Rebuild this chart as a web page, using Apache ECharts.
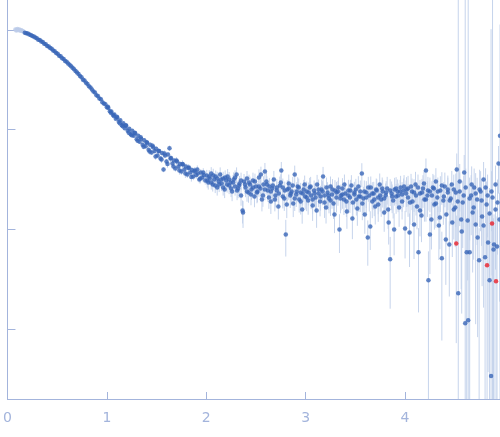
<!DOCTYPE html>
<html><head><meta charset="utf-8">
<script src="https://cdn.jsdelivr.net/npm/echarts@6/dist/echarts.min.js"></script>
<style>html,body{margin:0;padding:0;background:#fff}#c{width:500px;height:437px}</style>
</head><body><div id="c"></div>
<script>
const xTicks=[0,1,2,3,4];
const yTicks=[-3,-2,-1,0];
const Y_MIN=-3.7, Y_MAX=0.3;

const qLight=[0.08,0.09,0.1,0.11,0.12,0.13,0.14,0.15,0.16];
const lgLight=[0.005,-0.005,0.01,-0.002,0.004,-0.008,-0.003,-0.012,-0.015];
const errLight=[0.03,0.025,0.03,0.02,0.025,0.02,0.02,0.02,0.02];

const qMain=[
0.175,0.19,0.205,0.22,0.235,0.25,0.265,0.28,0.295,0.31,
0.325,0.34,0.355,0.37,0.385,0.4,0.415,0.43,0.445,0.46,
0.475,0.49,0.505,0.52,0.535,0.55,0.565,0.58,0.595,0.61,
0.625,0.64,0.655,0.67,0.685,0.7,0.715,0.73,0.745,0.76,
0.775,0.79,0.805,0.82,0.835,0.85,0.865,0.88,0.895,0.91,
0.925,0.94,0.955,
0.97,0.985,1,1.015,1.03,1.045,1.06,1.075,1.09,1.105,
1.12,1.135,1.15,1.165,1.18,1.195,1.21,1.225,1.24,1.255,
1.27,1.285,1.3,1.315,1.33,1.345,1.36,1.375,1.39,1.405,
1.42,1.435,1.45,1.465,1.48,1.495,1.51,1.525,1.54,1.555,
1.57,1.585,1.6,1.615,1.63,1.645,1.66,1.675,1.69,1.705,
1.72,1.735,1.75,1.765,1.78,1.795,1.81,1.825,1.84,1.855,
1.87,1.885,1.9,1.915,1.93,1.945,1.96,1.975,1.99,
2.005,2.02,2.035,2.05,2.065,2.08,2.095,2.11,2.125,2.14,
2.155,2.17,2.185,2.2,2.215,2.23,2.245,2.26,2.275,2.29,
2.305,2.32,2.335,2.35,2.365,2.38,2.395,2.41,2.425,2.44,
2.455,2.47,2.485,2.5,2.515,2.53,2.545,2.56,2.575,2.59,
2.605,2.62,2.635,2.65,2.665,2.68,2.695,2.71,2.725,2.74,
2.755,2.77,2.785,2.8,2.815,2.83,2.845,2.86,2.875,2.89,
2.905,2.92,2.935,2.95,2.965,2.98,2.995,
3.01,3.025,3.04,3.055,3.07,3.085,3.1,3.115,3.13,3.145,
3.16,3.175,3.19,3.205,3.22,3.235,3.25,3.265,3.28,3.295,
3.31,3.325,3.34,3.355,3.37,3.385,3.4,3.415,3.43,3.445,
3.46,3.475,3.49,3.505,3.52,3.535,3.55,3.565,3.58,3.595,
3.61,3.625,3.64,3.655,3.67,3.685,3.7,3.715,3.73,3.745,
3.76,3.775,3.79,3.805,3.82,3.835,3.85,3.865,3.88,3.895,
3.91,3.925,3.94,3.955,3.97,3.985,
4,4.015,4.03,4.045,4.06,4.075,4.09,4.105,4.12,4.135,
4.15,4.165,4.18,4.195,4.21,4.225,4.235,4.25,4.265,4.28,
4.295,4.31,4.325,4.34,4.355,4.37,4.385,4.4,4.415,4.43,
4.445,4.46,4.475,4.49,
4.505,4.52,4.535,4.55,4.565,4.58,4.595,4.605,4.62,4.635,
4.65,4.665,4.68,4.695,4.71,4.725,4.745,4.76,4.775,4.79,
4.805,4.82,4.835,4.85,4.865,4.88,4.895,4.91,4.925,4.94,
4.955];

const lgMain=[
-0.028,-0.033,-0.036,-0.045,-0.05,-0.062,-0.066,-0.077,-0.083,-0.098,
-0.1,-0.116,-0.121,-0.138,-0.143,-0.16,-0.166,-0.182,-0.188,-0.206,
-0.213,-0.231,-0.238,-0.258,-0.265,-0.283,-0.291,-0.312,-0.32,-0.337,
-0.35,-0.363,-0.38,-0.393,-0.412,-0.428,-0.442,-0.461,-0.474,-0.5,
-0.508,-0.53,-0.542,-0.565,-0.578,-0.597,-0.617,-0.628,-0.654,-0.662,
-0.688,-0.696,-0.724,
-0.738,-0.745,-0.775,-0.782,-0.815,-0.818,-0.85,-0.848,-0.89,-0.878,
-0.92,-0.905,-0.955,-0.935,-0.985,-0.96,-1.01,-0.99,-1.045,-1.01,
-1.06,-1.035,-1.095,-1.06,-1.12,-1.09,-1.15,-1.105,-1.165,-1.13,
-1.2,-1.15,-1.23,-1.175,-1.215,-1.19,-1.26,-1.215,-1.29,-1.235,
-1.4,-1.26,-1.32,-1.25,-1.185,-1.285,-1.34,-1.31,-1.39,-1.32,
-1.37,-1.345,-1.42,-1.35,-1.4,-1.37,-1.45,-1.38,-1.43,-1.405,
-1.47,-1.41,-1.455,-1.44,-1.5,-1.43,-1.48,-1.455,-1.51,
-1.46,-1.53,-1.49,-1.44,-1.55,-1.5,-1.47,-1.58,-1.52,-1.45,
-1.54,-1.49,-1.6,-1.51,-1.47,-1.56,-1.53,-1.62,-1.5,-1.57,
-1.45,-1.59,-1.54,-1.66,-1.81,-1.52,-1.58,-1.49,-1.63,-1.55,
-1.6,-1.51,-1.67,-1.57,-1.62,-1.48,-1.59,-1.7,-1.55,-1.42,
-1.52,-1.61,-1.57,-1.72,-1.59,-1.5,-1.66,-1.61,-1.77,-1.56,
-1.41,-1.58,-1.69,-2.05,-1.6,-1.54,-1.66,-1.62,-1.74,-1.45,
-1.65,-1.57,-1.7,-1.63,-1.8,-1.6,-1.67,
-1.62,-1.71,-1.58,-1.66,-1.76,-1.61,-1.68,-1.55,-1.64,-1.72,
-1.6,-1.47,-1.66,-1.78,-1.63,-1.69,-1.57,-1.65,-1.74,-1.61,
-1.68,-1.62,-2,-1.66,-1.59,-1.7,-1.64,-1.82,-1.61,-1.68,
-1.56,-1.73,-1.65,-1.6,-1.79,-1.67,-1.62,-1.44,-1.69,-1.85,
-1.63,-2.08,-1.66,-1.58,-1.72,-1.64,-1.77,-1.61,-1.68,-1.55,
-1.7,-1.62,-1.83,-1.66,-1.59,-1.93,-2.3,-1.64,-1.71,-1.6,
-1.67,-1.62,-1.78,-1.58,-1.65,-1.61,
-1.99,-1.6,-1.68,-2.03,-1.57,-1.72,-1.63,-1.55,-1.77,-2.23,
-1.64,-1.86,-1.59,-1.7,-1.41,-1.66,-2.51,-1.62,-1.9,-1.58,
-1.75,-1.52,-1.68,-1.96,-1.61,-2.29,-1.71,-1.57,-1.85,-1.63,
-2.15,-1.69,-1.93,-1.6,
-1.78,-1.4,-2.64,-1.62,-1.9,-1.73,-1.43,-2.94,-2.23,-2.91,
-2.23,-1.66,-1.83,-1.58,-1.95,-1.7,-2.31,-1.62,-1.87,-1.5,
-2.28,-1.75,-2.13,-2.51,-3.47,-1.68,-2.15,-1.8,-2.17,-1.34,
-1.06];

const errMain=[
0.010,0.011,0.010,0.012,0.011,0.012,0.013,0.012,0.013,0.014,
0.013,0.014,0.015,0.014,0.015,0.016,0.015,0.016,0.017,0.016,
0.017,0.018,0.017,0.018,0.019,0.018,0.019,0.020,0.019,0.020,
0.021,0.020,0.021,0.022,0.021,0.022,0.023,0.022,0.023,0.024,
0.023,0.024,0.025,0.024,0.025,0.026,0.025,0.026,0.027,0.026,
0.027,0.028,0.027,
0.02,0.022,0.021,0.024,0.023,0.025,0.026,0.024,0.028,0.027,
0.03,0.029,0.032,0.031,0.034,0.033,0.036,0.035,0.038,0.037,
0.04,0.039,0.042,0.041,0.044,0.043,0.046,0.045,0.048,0.047,
0.05,0.049,0.052,0.051,0.054,0.053,0.056,0.055,0.058,0.057,
0.06,0.059,0.062,0.061,0.064,0.063,0.066,0.065,0.068,0.067,
0.07,0.069,0.072,0.071,0.074,0.073,0.076,0.075,0.078,0.077,
0.08,0.079,0.082,0.081,0.084,0.083,0.086,0.085,0.088,
0.14,0.15,0.14,0.16,0.15,0.16,0.15,0.17,0.16,0.18,
0.16,0.17,0.18,0.17,0.19,0.18,0.17,0.2,0.18,0.19,
0.18,0.2,0.19,0.21,0.26,0.19,0.2,0.19,0.21,0.2,
0.21,0.2,0.22,0.21,0.22,0.21,0.22,0.24,0.21,0.22,
0.22,0.23,0.22,0.25,0.23,0.22,0.24,0.23,0.26,0.23,
0.22,0.23,0.25,0.4,0.24,0.23,0.25,0.24,0.27,0.23,
0.25,0.24,0.26,0.25,0.28,0.25,0.26,
0.26,0.28,0.25,0.27,0.3,0.26,0.28,0.25,0.27,0.29,
0.26,0.25,0.28,0.31,0.27,0.29,0.26,0.28,0.3,0.27,
0.29,0.28,0.42,0.29,0.27,0.3,0.28,0.33,0.28,0.3,
0.27,0.31,0.29,0.28,0.33,0.3,0.29,0.27,0.31,0.36,
0.3,0.48,0.31,0.29,0.32,0.31,0.34,0.3,0.32,0.29,
0.33,0.31,0.36,0.32,0.31,0.4,0.68,0.32,0.34,0.31,
0.33,0.32,0.36,0.31,0.33,0.32,
0.5,0.33,0.36,0.55,0.34,0.38,0.36,0.34,0.41,0.75,
0.37,0.46,0.36,0.4,0.32,0.39,0.95,0.38,0.5,0.37,
0.44,0.36,0.41,0.55,0.39,0.85,0.43,0.38,0.5,0.41,
0.7,0.44,0.55,0.41,
0.6,0.45,2000,0.55,0.8,0.65,0.5,2000,1,2000,
1,0.6,0.75,0.55,0.9,0.65,1.1,0.6,0.8,0.5,
1.05,0.7,0.95,1.2,3000,120,1,0.75,1,0.5,
12];

const qMain2=[
1.01,1.04,1.07,1.1,1.13,1.16,1.19,1.22,1.25,1.28,
1.31,1.34,1.37,1.4,1.43,1.46,1.49,1.52,1.55,1.58,
1.61,1.64,1.67,1.7,1.73,1.76,1.79,1.82,1.85,1.88,
1.91,1.94,1.97,
2.01,2.03,2.05,2.07,2.09,2.11,2.13,2.15,2.17,2.19,
2.21,2.23,2.25,2.27,2.29,2.31,2.33,2.35,2.37,2.39,
2.41,2.43,2.45,2.47,2.49,2.51,2.53,2.55,2.57,2.59,
2.61,2.63,2.65,2.67,2.69,2.71,2.73,2.75,2.77,2.79,
2.81,2.83,2.85,2.87,2.89,2.91,2.93,2.95,2.97,2.99,
3.01,3.03,3.05,3.07,3.09,3.11,3.13,3.15,3.17,3.19,
3.21,3.23,3.25,3.27,3.29,3.31,3.33,3.35,3.37,3.39,
3.41,3.43,3.45,3.47,3.49,3.51,3.53,3.55,3.57,3.59,
3.61,3.63,3.65,3.67,3.69,3.71,3.73,3.75,3.77,3.79,
3.81,3.83,3.85,3.87,3.89,3.91,3.93,3.95,3.97,3.99,
4.01,4.03,4.05,4.07,4.09,4.11,4.13,4.15,4.17,4.19,
4.21,4.23,4.25,4.27,4.29,4.31,4.33,4.35,4.37,4.39,
4.41,4.43,4.45,4.47,4.49,
4.51,4.53,4.55,4.57,4.59,4.61,4.63,4.65,4.67,4.69,
4.71,4.73,4.75,4.77,4.79,4.81,4.83,4.85,4.87,4.89,
4.91,4.93,4.95];

const lgMain2=[
-0.77,-0.83,-0.862,-0.87,-0.935,-0.965,-0.955,-1.03,-1.055,-1.03,
-1.11,-1.075,-1.17,-1.125,-1.22,-1.16,-1.27,-1.215,-1.3,-1.24,
-1.345,-1.29,-1.37,-1.31,-1.41,-1.345,-1.44,-1.385,-1.475,-1.42,
-1.4,-1.49,-1.43,
-1.51,-1.47,-1.53,-1.46,-1.56,-1.49,-1.55,-1.5,-1.58,-1.48,
-1.55,-1.5,-1.59,-1.53,-1.48,-1.61,-1.56,-1.51,-1.83,-1.55,
-1.62,-1.53,-1.65,-1.58,-1.52,-1.63,-1.57,-1.45,-1.66,-1.6,
-1.55,-1.68,-1.62,-1.56,-1.7,-1.58,-1.64,-1.53,-1.67,-1.61,
-1.75,-1.59,-1.64,-1.56,-1.69,-1.62,-1.58,-1.72,-1.64,-1.55,
-1.68,-1.63,-1.57,-1.7,-1.64,-1.81,-1.6,-1.67,-1.62,-1.73,
-1.58,-1.66,-1.71,-1.6,-1.85,-1.63,-1.58,-1.69,-1.65,-1.55,
-1.72,-1.66,-1.61,-1.89,-1.63,-1.7,-1.57,-1.67,-1.74,-1.62,
-1.68,-1.58,-1.97,-1.64,-1.7,-1.6,-1.75,-1.66,-1.59,-1.69,
-1.63,-1.8,-1.61,-1.67,-2,-1.59,-1.66,-1.62,-1.72,-1.57,
-1.64,-1.59,-1.73,-1.62,-1.95,-1.66,-1.58,-1.81,-1.63,-1.54,
-1.7,-1.61,-2.05,-1.66,-1.59,-1.74,-1.62,-1.88,-1.56,-1.67,
-2.1,-1.6,-1.71,-1.55,-1.8,
-1.63,-1.72,-1.52,-2.02,-1.66,-1.58,-1.91,-1.69,-1.55,-1.78,
-1.64,-2.08,-1.6,-1.71,-1.96,-1.58,-1.66,-1.84,-1.62,-2.2,
-1.55,-1.73,-1.9];

const errMain2=[
0.03,0.03,0.035,0.035,0.04,0.04,0.045,0.045,0.05,0.05,
0.055,0.055,0.06,0.06,0.065,0.065,0.07,0.07,0.075,0.075,
0.08,0.08,0.085,0.085,0.09,0.09,0.095,0.095,0.1,0.1,
0.1,0.105,0.105,
0.15,0.16,0.15,0.17,0.16,0.17,0.16,0.18,0.17,0.18,
0.17,0.19,0.18,0.19,0.18,0.2,0.19,0.2,0.3,0.2,
0.21,0.2,0.22,0.21,0.2,0.22,0.21,0.2,0.23,0.22,
0.21,0.23,0.22,0.21,0.24,0.22,0.23,0.21,0.24,0.23,
0.27,0.23,0.24,0.22,0.25,0.24,0.23,0.26,0.24,0.23,
0.27,0.26,0.25,0.28,0.27,0.33,0.26,0.28,0.27,0.3,
0.26,0.28,0.3,0.27,0.35,0.28,0.26,0.29,0.28,0.26,
0.3,0.29,0.28,0.38,0.28,0.31,0.27,0.3,0.32,0.29,
0.3,0.28,0.42,0.3,0.32,0.29,0.33,0.31,0.29,0.32,
0.3,0.36,0.3,0.32,0.45,0.3,0.32,0.31,0.34,0.3,
0.35,0.34,0.4,0.35,0.55,0.37,0.35,0.45,0.37,0.34,
0.4,0.37,0.6,0.39,0.36,0.43,0.38,0.52,0.36,0.4,
0.65,0.38,0.44,0.37,0.5,
0.55,0.6,0.5,0.85,0.58,0.55,0.75,0.62,0.52,0.7,
0.6,0.9,0.58,0.65,0.85,0.56,0.62,0.8,0.6,1.05,
0.55,0.7,0.85];

const qRed=[4.515,4.825,4.875,4.915];
const lgRed=[-2.14,-2.36,-1.94,-2.52];
const errRed=[0.9,1.1,0.7,1.2];

function pts(q,lg){return q.map((x,i)=>[x,lg[i]]);}
function bars(q,lg,er){return q.map((x,i)=>[x,lg[i],er[i]]);}
const allBars=[].concat(bars(qLight,lgLight,errLight),bars(qMain,lgMain,errMain),bars(qMain2,lgMain2,errMain2),bars(qRed,lgRed,errRed));
const mainPts=[].concat(pts(qMain,lgMain),pts(qMain2,lgMain2));

const axisCol='#a3b4dc';
const chart=echarts.init(document.getElementById('c'),null,{renderer:'canvas'});
chart.setOption({
  animation:false,
  grid:{left:4.5,right:0,top:0,bottom:38,containLabel:false},
  xAxis:{type:'value',min:0,max:4.955,
    axisLine:{show:true,onZero:false,lineStyle:{color:axisCol,width:1}},
    axisTick:{show:true,inside:true,length:7,customValues:xTicks,lineStyle:{color:axisCol}},
    axisLabel:{customValues:xTicks,color:axisCol,fontSize:14,margin:12,fontFamily:'DejaVu Sans'},
    splitLine:{show:false}},
  yAxis:{type:'value',min:Y_MIN,max:Y_MAX,
    axisLine:{show:true,onZero:false,lineStyle:{color:axisCol,width:1}},
    axisTick:{show:true,inside:true,length:8,customValues:yTicks,lineStyle:{color:axisCol}},
    axisLabel:{show:false},
    splitLine:{show:false}},
  series:[
    {type:'custom',data:allBars,encode:{x:0,y:1},clip:true,z:1,silent:true,
     renderItem:function(params,api){
       const q=api.value(0),v=api.value(1),r=api.value(2);
       let hi=v+Math.log10(1+r);
       let lo=r<1?v+Math.log10(1-r):Y_MIN;
       hi=Math.min(hi,Y_MAX); lo=Math.max(lo,Y_MIN);
       const p1=api.coord([q,hi]),p2=api.coord([q,lo]);
       return {type:'line',shape:{x1:p1[0],y1:p1[1],x2:p2[0],y2:p2[1]},style:{stroke:'#c6d4ec',lineWidth:1}};
     }},
    {type:'scatter',data:pts(qLight,lgLight),symbolSize:4.5,itemStyle:{color:'#bccbe8'},z:2,silent:true},
    {type:'scatter',data:mainPts,symbolSize:4.5,itemStyle:{color:'#3a67b8'},z:3,silent:true},
    {type:'scatter',data:pts(qRed,lgRed),symbolSize:4.5,itemStyle:{color:'#e8202a'},z:4,silent:true}
  ]
});
</script></body></html>
